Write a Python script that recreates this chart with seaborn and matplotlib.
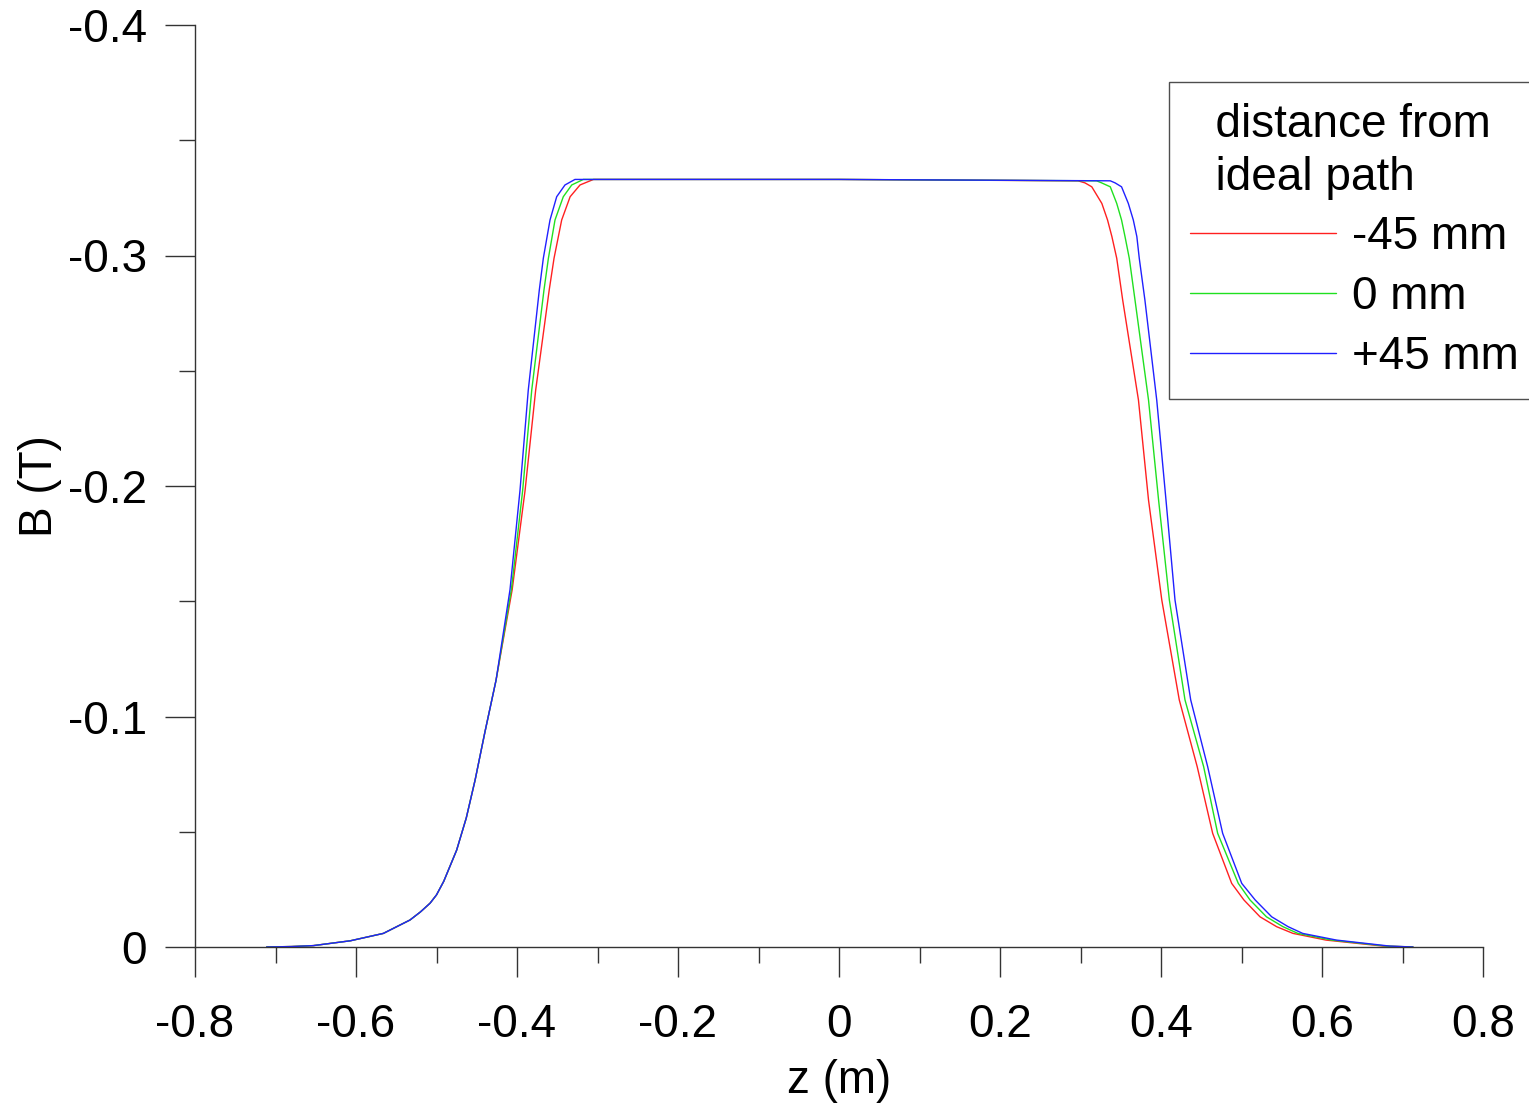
import numpy as np
import pandas as pd
import matplotlib
matplotlib.use("Agg")
import matplotlib.pyplot as plt
from matplotlib.ticker import MultipleLocator, FuncFormatter
import seaborn as sns

# ---- data (z in m, B in T) ----
series_names = ["-45 mm", "0 mm", "+45 mm"]
series_colors = ["#ff2020", "#20e020", "#2020ff"]

# shared lower-left tail (the three curves overlap there)
z_tail = [-0.711, -0.68, -0.653, -0.607, -0.566, -0.533, -0.52, -0.508, -0.5, -0.491,
          -0.475, -0.463, -0.452, -0.44, -0.426]
b_tail = [0.0, -0.0002, -0.0006, -0.0027, -0.0059, -0.0117, -0.0152, -0.019, -0.0226, -0.0285,
          -0.042, -0.056, -0.0725, -0.093, -0.1158]

b_rise = [-0.155, -0.198, -0.2416, -0.285, -0.2988, -0.3154, -0.3255, -0.3306, -0.333]
z_rise_red = [-0.406, -0.390, -0.3768, -0.360, -0.354, -0.3445, -0.334, -0.3217, -0.305]
z_rise_green = [-0.407, -0.393, -0.3817, -0.3665, -0.361, -0.3528, -0.3425, -0.332, -0.3176]
z_rise_blue = [-0.4087, -0.3963, -0.386, -0.3723, -0.3673, -0.359, -0.3507, -0.3404, -0.328]

z_mid = [0.0]
b_mid = [-0.333]

b_fall = [-0.3324, -0.3315, -0.3298, -0.3226, -0.3154, -0.3082, -0.2988, -0.2807, -0.2373,
          -0.1939, -0.1505, -0.1072, -0.0782, -0.0493, -0.0276, -0.0204, -0.0131, -0.0088,
          -0.0059, -0.003, -0.0004, 0.0]
z_fall_red = [0.297, 0.3056, 0.314, 0.3265, 0.3336, 0.339, 0.345, 0.3524, 0.372,
              0.3845, 0.401, 0.4227, 0.4450, 0.4642, 0.4878, 0.503, 0.523, 0.5437,
              0.564, 0.605, 0.676, 0.713]
z_fall_green = [0.320, 0.3263, 0.337, 0.345, 0.351, 0.3553, 0.3606, 0.3677, 0.3845,
                0.397, 0.4104, 0.4298, 0.4530, 0.4704, 0.496, 0.5106, 0.531, 0.5516,
                0.570, 0.612, 0.680, 0.713]
z_fall_blue = [0.337, 0.343, 0.351, 0.3594, 0.3656, 0.370, 0.373, 0.380, 0.3947,
               0.4062, 0.4174, 0.4369, 0.4580, 0.4766, 0.5003, 0.517, 0.5375, 0.558,
               0.576, 0.618, 0.684, 0.713]

x_ticks = [-0.8, -0.6, -0.4, -0.2, 0.0, 0.2, 0.4, 0.6, 0.8]
y_ticks = [0.0, -0.1, -0.2, -0.3, -0.4]

z_series = [z_tail + z_rise_red + z_mid + z_fall_red,
            z_tail + z_rise_green + z_mid + z_fall_green,
            z_tail + z_rise_blue + z_mid + z_fall_blue]
b_series = [b_tail + b_rise + b_mid + b_fall] * 3

frames = []
for name, z, b in zip(series_names, z_series, b_series):
    frames.append(pd.DataFrame({"z": z, "B": b, "series": name}))
df = pd.concat(frames, ignore_index=True)

sns.set_style("ticks")
plt.rcParams["font.family"] = ["Liberation Sans", "DejaVu Sans"]

fig = plt.figure(figsize=(15.29, 11.03), dpi=100)
ax = fig.add_axes([195 / 1529, 1 - 947 / 1103, (1483 - 195) / 1529, (947 - 25) / 1103])

sns.lineplot(data=df, x="z", y="B", hue="series", hue_order=series_names,
             palette=series_colors, estimator=None, sort=False, units="series",
             linewidth=1.0, ax=ax, legend=False)

ax.set_xlim(-0.8, 0.8)
ax.set_ylim(0.0, -0.4)
ax.set_xticks(x_ticks)
ax.set_yticks(y_ticks)
fmt = FuncFormatter(lambda v, p: "0" if abs(v) < 1e-9 else f"{v:g}")
ax.xaxis.set_major_formatter(fmt)
ax.yaxis.set_major_formatter(fmt)
ax.xaxis.set_minor_locator(MultipleLocator(0.1))
ax.yaxis.set_minor_locator(MultipleLocator(0.05))

spine_color = "#333333"
for s in ["top", "right"]:
    ax.spines[s].set_visible(False)
for s in ["left", "bottom"]:
    ax.spines[s].set_color(spine_color)
    ax.spines[s].set_linewidth(1.0)

ax.tick_params(which="major", direction="out", length=21.5, width=1.0, color=spine_color,
               labelsize=33, labelcolor="black")
ax.tick_params(which="minor", direction="out", length=11.5, width=1.0, color=spine_color)
ax.tick_params(axis="x", which="major", pad=19)
ax.tick_params(axis="y", which="major", pad=13)

ax.set_xlabel("z (m)", fontsize=33, color="black")
ax.set_ylabel("B (T)", fontsize=33, color="black")
ax.xaxis.set_label_coords(0.5, -0.121)
ax.yaxis.set_label_coords(-0.103, 0.5)

handles = [plt.Line2D([], [], color=c, linewidth=1.0) for c in series_colors]
leg = fig.legend(handles, series_names, title="  distance from\n  ideal path",
                 loc="upper left", bbox_to_anchor=(1169 / 1529, 1 - 82 / 1103, 0.3, 0.0),
                 mode="expand", fontsize=33, title_fontsize=33, frameon=True, fancybox=False,
                 handlelength=3.2, handletextpad=0.35, labelspacing=0.34,
                 borderpad=0.45, borderaxespad=0.0, alignment="left", labelcolor="black")
leg.get_frame().set_edgecolor("#222222")
leg.get_frame().set_linewidth(1.0)
leg.get_title().set_color("black")
leg.get_title().set_linespacing(1.27)

fig.savefig("out.png", dpi=100, facecolor="white")
